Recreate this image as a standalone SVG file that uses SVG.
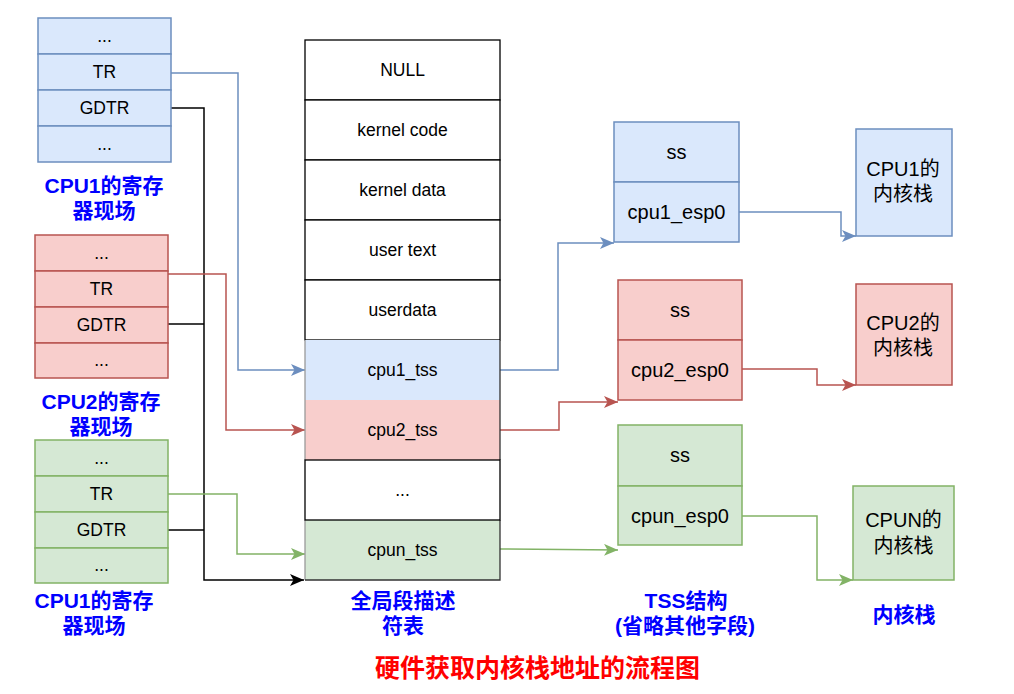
<svg xmlns="http://www.w3.org/2000/svg" width="1014" height="694" viewBox="0 0 1014 694">
<defs>
<style>
.t{font-family:"Liberation Sans","Noto Sans CJK SC",sans-serif;fill:#000;text-anchor:middle}
.r{font-size:17.5px}
.b{font-size:20px}
.lbl{font-family:"Liberation Sans","Noto Sans CJK SC",sans-serif;font-size:21px;font-weight:bold;fill:#0000FF;text-anchor:middle}
.title{font-family:"Liberation Sans","Noto Sans CJK SC",sans-serif;font-size:25px;font-weight:bold;fill:#FF0000;text-anchor:middle}
.blue{fill:#dae8fc;stroke:#6c8ebf;stroke-width:1.5}
.red{fill:#f8cecc;stroke:#b85450;stroke-width:1.5}
.green{fill:#d5e8d4;stroke:#82b366;stroke-width:1.5}
.cell{fill:#fff;stroke:#000;stroke-width:1.3}
.c{fill:none;stroke-width:1.5}
.cb{stroke:#6c8ebf}
.cr{stroke:#b85450}
.cg{stroke:#82b366}
.ck{stroke:#000}
</style>
<marker id="ab" markerUnits="userSpaceOnUse" markerWidth="15" markerHeight="13" refX="14" refY="6" orient="auto"><path d="M0,0 L14,6 L0,12 L3.5,6 Z" fill="#6c8ebf"/></marker>
<marker id="ar" markerUnits="userSpaceOnUse" markerWidth="15" markerHeight="13" refX="14" refY="6" orient="auto"><path d="M0,0 L14,6 L0,12 L3.5,6 Z" fill="#b85450"/></marker>
<marker id="ag" markerUnits="userSpaceOnUse" markerWidth="15" markerHeight="13" refX="14" refY="6" orient="auto"><path d="M0,0 L14,6 L0,12 L3.5,6 Z" fill="#82b366"/></marker>
<marker id="ak" markerUnits="userSpaceOnUse" markerWidth="15" markerHeight="13" refX="14" refY="6" orient="auto"><path d="M0,0 L14,6 L0,12 L3.5,6 Z" fill="#000"/></marker>
</defs>
<rect width="1014" height="694" fill="#fff"/>

<g id="connectors">
<path class="c ck" d="M171,108 H204 V580 H304" marker-end="url(#ak)"/>
<path class="c ck" d="M168,324 H204"/>
<path class="c ck" d="M168,530 H204"/>
<path class="c cb" d="M171,73 H238 V370 H305" marker-end="url(#ab)"/>
<path class="c cr" d="M168,274 H226 V430 H305" marker-end="url(#ar)"/>
<path class="c cg" d="M168,494 H237 V554 H305" marker-end="url(#ag)"/>
<path class="c cb" d="M500,370 H558 V243 H614" marker-end="url(#ab)"/>
<path class="c cr" d="M500,430 H559 V402 H618" marker-end="url(#ar)"/>
<path class="c cg" d="M500,549 L618,550" marker-end="url(#ag)"/>
<path class="c cb" d="M739,212 H841 V236 H856" marker-end="url(#ab)"/>
<path class="c cr" d="M742,369 H817 V385 H856" marker-end="url(#ar)"/>
<path class="c cg" d="M742,516 H817 V580 H853" marker-end="url(#ag)"/>
</g>

<g id="cpu1-regs">
<rect class="blue" x="38" y="18" width="133" height="36"/>
<rect class="blue" x="38" y="54" width="133" height="36"/>
<rect class="blue" x="38" y="90" width="133" height="36"/>
<rect class="blue" x="38" y="126" width="133" height="36"/>
<text class="t r" x="104.5" y="42">...</text>
<text class="t r" x="104.5" y="78">TR</text>
<text class="t r" x="104.5" y="114">GDTR</text>
<text class="t r" x="104.5" y="150">...</text>
</g>
<g id="cpu2-regs">
<rect class="red" x="35" y="235" width="133" height="36"/>
<rect class="red" x="35" y="271" width="133" height="36"/>
<rect class="red" x="35" y="307" width="133" height="36"/>
<rect class="red" x="35" y="343" width="133" height="35"/>
<text class="t r" x="101.5" y="259">...</text>
<text class="t r" x="101.5" y="295">TR</text>
<text class="t r" x="101.5" y="331">GDTR</text>
<text class="t r" x="101.5" y="366">...</text>
</g>
<g id="cpun-regs">
<rect class="green" x="35" y="440" width="133" height="36"/>
<rect class="green" x="35" y="476" width="133" height="36"/>
<rect class="green" x="35" y="512" width="133" height="36"/>
<rect class="green" x="35" y="548" width="133" height="35"/>
<text class="t r" x="101.5" y="464">...</text>
<text class="t r" x="101.5" y="500">TR</text>
<text class="t r" x="101.5" y="536">GDTR</text>
<text class="t r" x="101.5" y="571">...</text>
</g>
<g id="reg-labels">
<text class="lbl" x="104" y="193">CPU1的寄存</text>
<text class="lbl" x="104" y="218">器现场</text>
<text class="lbl" x="101" y="409">CPU2的寄存</text>
<text class="lbl" x="101" y="434">器现场</text>
<text class="lbl" x="94" y="608">CPU1的寄存</text>
<text class="lbl" x="94" y="633">器现场</text>
</g>

<g id="gdt">
<rect class="cell" x="305" y="40" width="195" height="60"/>
<rect class="cell" x="305" y="100" width="195" height="60"/>
<rect class="cell" x="305" y="160" width="195" height="60"/>
<rect class="cell" x="305" y="220" width="195" height="60"/>
<rect class="cell" x="305" y="280" width="195" height="60"/>
<rect x="305" y="340" width="195" height="60" fill="#dae8fc"/>
<rect x="305" y="400" width="195" height="60" fill="#f8cecc"/>
<rect x="305" y="520" width="195" height="60" fill="#d5e8d4"/>
<path d="M305,340 V460 M305,520 V580" stroke="#9a9a9a" stroke-width="1.3" fill="none"/>
<path d="M500,340 V460 M500,520 V580 H305" stroke="#333" stroke-width="1.3" fill="none"/>
<rect class="cell" x="305" y="460" width="195" height="60"/>
<text class="t r" x="402.5" y="76">NULL</text>
<text class="t r" x="402.5" y="136">kernel code</text>
<text class="t r" x="402.5" y="196">kernel data</text>
<text class="t r" x="402.5" y="256">user text</text>
<text class="t r" x="402.5" y="316">userdata</text>
<text class="t r" x="402.5" y="376">cpu1_tss</text>
<text class="t r" x="402.5" y="436">cpu2_tss</text>
<text class="t r" x="402.5" y="496">...</text>
<text class="t r" x="402.5" y="556">cpun_tss</text>
<text class="lbl" x="403" y="608">全局段描述</text>
<text class="lbl" x="403" y="633">符表</text>
</g>

<g id="tss1">
<rect class="blue" x="614" y="122" width="125" height="60"/>
<rect class="blue" x="614" y="182" width="125" height="60"/>
<text class="t b" x="676.5" y="159">ss</text>
<text class="t b" x="676.5" y="219">cpu1_esp0</text>
</g>
<g id="tss2">
<rect class="red" x="618" y="280" width="124" height="60"/>
<rect class="red" x="618" y="340" width="124" height="60"/>
<text class="t b" x="680" y="317">ss</text>
<text class="t b" x="680" y="377">cpu2_esp0</text>
</g>
<g id="tssn">
<rect class="green" x="618" y="425" width="124" height="61"/>
<rect class="green" x="618" y="486" width="124" height="59"/>
<text class="t b" x="680" y="462">ss</text>
<text class="t b" x="680" y="523">cpun_esp0</text>
</g>
<g id="tss-label">
<text class="lbl" x="686" y="608">TSS结构</text>
<text class="lbl" x="685" y="633">(省略其他字段)</text>
</g>

<g id="stack1">
<rect class="blue" x="856" y="129" width="96" height="107"/>
<text class="t b" x="903" y="176">CPU1的</text>
<text class="t b" x="903" y="201">内核栈</text>
</g>
<g id="stack2">
<rect class="red" x="856" y="284" width="96" height="101"/>
<text class="t b" x="903" y="330">CPU2的</text>
<text class="t b" x="903" y="355">内核栈</text>
</g>
<g id="stackn">
<rect class="green" x="853" y="486" width="101" height="94"/>
<text class="t b" x="903.5" y="527">CPUN的</text>
<text class="t b" x="903.5" y="553">内核栈</text>
</g>
<g id="stack-label">
<text class="lbl" x="904" y="622">内核栈</text>
</g>

<g id="title">
<text class="title" x="537.5" y="677">硬件获取内核栈地址的流程图</text>
</g>
</svg>
